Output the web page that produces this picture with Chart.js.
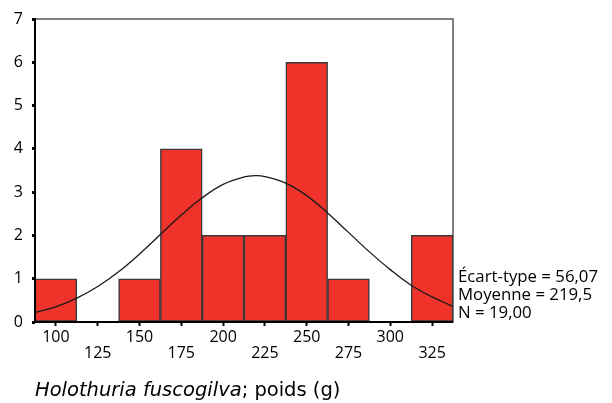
<!DOCTYPE html>
<html>
<head>
<meta charset="utf-8">
<script src="https://cdn.jsdelivr.net/npm/chart.js@4"></script>
<style>
  html, body { margin: 0; padding: 0; background: #fff; }
  #wrap { width: 612px; height: 403px; position: relative; }
</style>
</head>
<body>
<div id="wrap"><canvas id="myChart" width="612" height="403"></canvas></div>
<script>
// weight classes (bin centres, g) and counts
const binCentres = [100, 125, 150, 175, 200, 225, 250, 275, 300, 325];
const counts = [1, 0, 1, 4, 2, 2, 6, 1, 0, 2];

// fitted normal curve
const curveX = [87.5, 100, 112.5, 125, 137.5, 150, 162.5, 175, 187.5, 200, 212.5, 219.5, 225, 237.5, 250, 262.5, 275, 287.5, 300, 312.5, 325, 337.5];
const curveY = [0.22, 0.35, 0.55, 0.82, 1.16, 1.57, 2.02, 2.47, 2.87, 3.18, 3.35, 3.38, 3.36, 3.21, 2.92, 2.52, 2.07, 1.62, 1.21, 0.85, 0.58, 0.36];

const xTickValues = [100, 125, 150, 175, 200, 225, 250, 275, 300, 325];
const yTickValues = [0, 1, 2, 3, 4, 5, 6, 7];

const statsLines = ['Écart-type = 56,07', 'Moyenne = 219,5', 'N = 19,00'];
const titleItalic = 'Holothuria fuscogilva';
const titleRest = '; poids (g)';

const FONT = '"Open Sans", "Liberation Sans", Arial, sans-serif';
const TITLE_FONT = '"DejaVu Sans", "Open Sans", sans-serif';

const extras = {
  id: 'extras',
  beforeDatasetsDraw(chart) {
    const { ctx, chartArea: a } = chart;
    ctx.save();
    ctx.strokeStyle = '#555';
    ctx.lineWidth = 1.5;
    ctx.strokeRect(a.left, a.top, a.right - a.left, a.bottom - a.top);
    ctx.restore();
  },
  afterDraw(chart) {
    const { ctx, chartArea: a } = chart;
    ctx.save();
    // axes
    ctx.strokeStyle = '#000';
    ctx.lineWidth = 2;
    ctx.beginPath();
    ctx.moveTo(a.left, a.top - 1);
    ctx.lineTo(a.left, a.bottom);
    ctx.lineTo(a.right, a.bottom);
    ctx.stroke();
    // stats
    ctx.fillStyle = '#000';
    ctx.font = '16.8px ' + FONT;
    ctx.textBaseline = 'middle';
    statsLines.forEach((s, i) => ctx.fillText(s, a.right + 5, 277 + i * 18.2));
    // title
    ctx.textBaseline = 'alphabetic';
    ctx.font = 'italic 19.5px ' + TITLE_FONT;
    ctx.fillText(titleItalic, a.left, 396);
    const w = ctx.measureText(titleItalic).width;
    ctx.font = '19.5px ' + TITLE_FONT;
    ctx.fillText(titleRest, a.left + w, 396);
    ctx.restore();
  }
};

new Chart(document.getElementById('myChart'), {
  type: 'bar',
  data: {
    datasets: [{
      type: 'line',
      data: curveX.map((x, i) => ({ x: x, y: curveY[i] })),
      borderColor: '#1a1a1a',
      borderWidth: 1.3,
      pointRadius: 0,
      tension: 0.4,
      fill: false,
      order: 0
    }, {
      data: binCentres.map((x, i) => ({ x: x, y: counts[i] })),
      backgroundColor: '#EF332B',
      borderColor: '#3a3a3a',
      borderWidth: 1.5,
      borderSkipped: false,
      barPercentage: 1,
      categoryPercentage: 1,
      order: 1
    }]
  },
  options: {
    responsive: false,
    animation: false,
    layout: { padding: { top: 19, right: 159, bottom: 41, left: 0 } },
    plugins: { legend: { display: false }, tooltip: { enabled: false } },
    scales: {
      x: {
        type: 'linear',
        min: 87.5,
        max: 337.5,
        offset: false,
        afterBuildTicks: s => { s.ticks = xTickValues.map(v => ({ value: v })); },
        afterFit: s => { s.height = 40; },
        grid: { drawOnChartArea: false, offset: false, tickLength: 4, tickWidth: 2, tickColor: '#000' },
        border: { display: false },
        ticks: {
          autoSkip: false,
          maxRotation: 0,
          padding: 3,
          color: '#000',
          font: { size: 16, family: FONT, lineHeight: 1.0 },
          callback: (v, i) => (i % 2 === 0 ? String(v) : ['', String(v)])
        }
      },
      y: {
        min: 0,
        max: 7,
        afterBuildTicks: s => { s.ticks = yTickValues.map(v => ({ value: v })); },
        afterFit: s => { s.width = 35; },
        grid: { drawOnChartArea: false, tickLength: 3, tickWidth: 3, tickColor: '#000' },
        border: { display: false },
        ticks: {
          padding: 9,
          color: '#000',
          font: { size: 16, family: FONT }
        }
      }
    }
  },
  plugins: [extras]
});
</script>
</body>
</html>
